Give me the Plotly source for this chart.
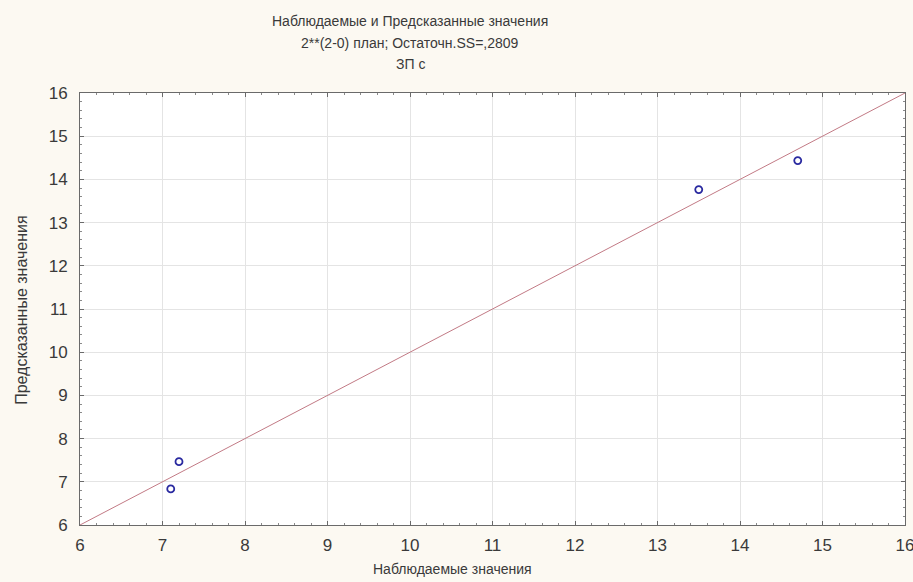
import plotly.graph_objects as go

# Observed vs predicted values for the 2**(2-0) design
observed = [7.1, 7.2, 13.5, 14.7]
predicted = [6.835, 7.465, 13.765, 14.435]
ref_line = [6, 16]
tick_vals = [6, 7, 8, 9, 10, 11, 12, 13, 14, 15, 16]

title_lines = [
    "Наблюдаемые и Предсказанные значения",
    "2**(2-0) план; Остаточн.SS=,2809",
    "ЗП c",
]
x_title = "Наблюдаемые значения"
y_title = "Предсказанные значения"

FONT = "Liberation Sans, Arial"
TEXT = "#3a3a3a"

fig = go.Figure()
fig.add_trace(go.Scatter(
    x=ref_line, y=ref_line, mode="lines",
    line=dict(color="#c27a85", width=1), hoverinfo="skip", showlegend=False,
))
fig.add_trace(go.Scatter(
    x=observed, y=predicted, mode="markers",
    marker=dict(symbol="circle-open", size=7, color="#2a2aa0", line=dict(width=1.8)),
    showlegend=False,
))

axis_common = dict(
    range=[6, 16], tickvals=tick_vals, showgrid=True, gridcolor="#e4e4e4", gridwidth=1,
    showline=True, linecolor="#6a6a6a", linewidth=1, mirror="ticks",
    ticks="inside", ticklen=4, tickcolor="#6a6a6a",
    minor=dict(dtick=0.2, ticks="inside", ticklen=2, tickcolor="#8a8a8a", showgrid=False),
    zeroline=False, automargin=False, ticklabeloverflow="allow",
    tickfont=dict(family=FONT, size=17, color=TEXT),
)

fig.update_xaxes(**axis_common, ticklabelstandoff=5)
fig.update_yaxes(**axis_common, ticklabelstandoff=8)

# Three-line chart heading
for text, ypx in zip(title_lines, [21, 43, 64]):
    fig.add_annotation(
        text=text, xref="paper", yref="paper",
        x=0.40, y=1 + (93 - ypx) / 432, xanchor="center", yanchor="middle",
        showarrow=False, font=dict(family=FONT, size=14, color=TEXT),
    )

# Axis titles
fig.add_annotation(
    text=x_title, xref="paper", yref="paper", x=0.451, y=-0.102,
    xanchor="center", yanchor="middle", showarrow=False,
    font=dict(family=FONT, size=14, color=TEXT),
)
fig.add_annotation(
    text=y_title, xref="paper", yref="paper", x=-0.0703, y=0.498, textangle=-90,
    xanchor="center", yanchor="middle", showarrow=False,
    font=dict(family=FONT, size=16, color=TEXT),
)

fig.update_layout(
    width=913, height=582,
    margin=dict(l=80, r=8, t=93, b=57),
    paper_bgcolor="#fcf9f2", plot_bgcolor="#ffffff",
)

fig.write_html("out.html")
